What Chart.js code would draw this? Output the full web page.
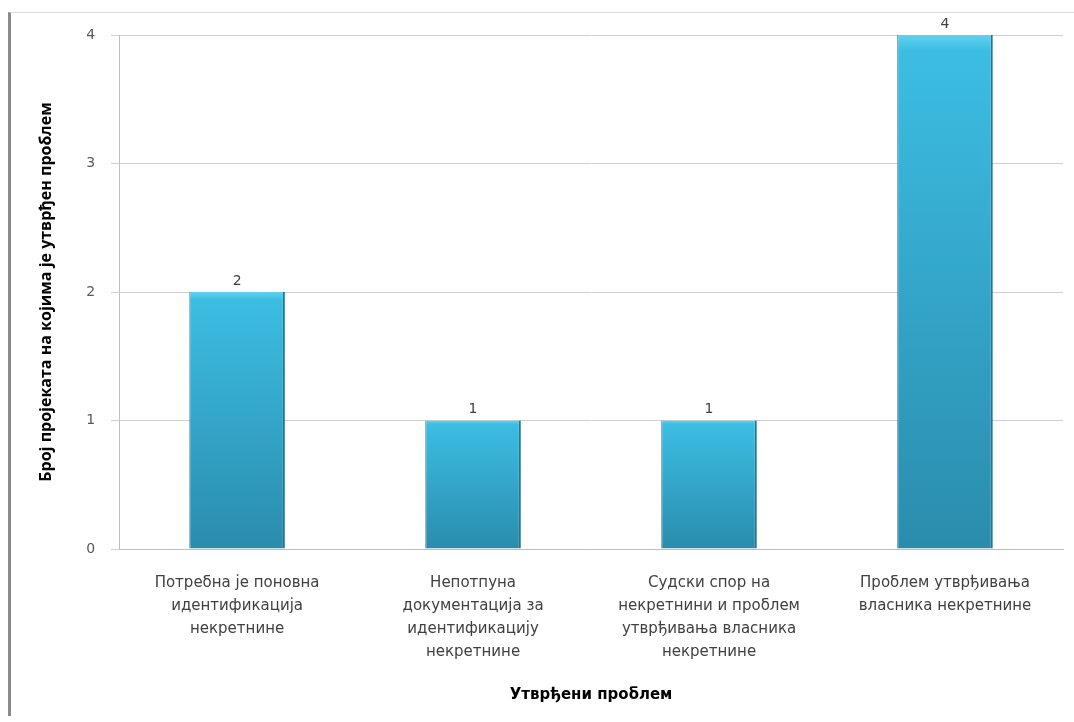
<!DOCTYPE html>
<html lang="sr">
<head>
  <meta charset="UTF-8">
  <title>Утврђени проблем</title>
  <script src="https://cdn.jsdelivr.net/npm/chart.js"></script>
  <style>
    html, body { margin: 0; padding: 0; background: #fff; }
    .frame {
      position: absolute; left: 8px; top: 12px; right: 0; bottom: 6px;
      border-left: 3px solid #8a8a8a;
      border-top: 1px solid #dcdcdc;
    }
    .chart-container { position: absolute; left: 0; top: 0; width: 1074px; height: 722px; }
  </style>
</head>
<body>
  <div class="frame"></div>
  <div class="chart-container">
    <canvas id="chart" width="1074" height="722"></canvas>
  </div>

  <script>
    // категорије и вредности
    const categories = [
      ['Потребна је поновна', 'идентификација', 'некретнине'],
      ['Непотпуна', 'документација за', 'идентификацију', 'некретнине'],
      ['Судски спор на', 'некретнини и проблем', 'утврђивања власника', 'некретнине'],
      ['Проблем утврђивања', 'власника некретнине']
    ];
    const counts = [2, 1, 1, 4];
    const yTicks = [0, 1, 2, 3, 4];

    // натписи изнад стубова
    const valueLabels = {
      id: 'valueLabels',
      afterDatasetsDraw(chart) {
        const ctx = chart.ctx;
        const meta = chart.getDatasetMeta(0);
        ctx.save();
        ctx.font = '14px "DejaVu Sans"';
        ctx.fillStyle = '#404040';
        ctx.textAlign = 'center';
        ctx.textBaseline = 'bottom';
        meta.data.forEach((bar, i) => {
          ctx.fillText(counts[i], bar.x, bar.y - 4);
        });
        ctx.restore();
      }
    };

    const ctx = document.getElementById('chart').getContext('2d');
    new Chart(ctx, {
      type: 'bar',
      data: {
        labels: categories,
        datasets: [{
          data: counts,
          // градијент по стубу: светлији врх, тамније дно
          backgroundColor: (c) => {
            const y = c.chart.scales && c.chart.scales.y;
            if (!y || !c.chart.chartArea || c.raw === undefined) return '#34a9cc';
            const top = y.getPixelForValue(c.raw);
            const base = y.getPixelForValue(0);
            const g = c.chart.ctx.createLinearGradient(0, top, 0, base);
            g.addColorStop(0, '#5fd3f0');
            g.addColorStop(0.03, '#3cbde2');
            g.addColorStop(1, '#2a8cad');
            return g;
          },
          borderColor: '#26758f',
          borderWidth: { left: 1, right: 2, top: 0, bottom: 0 },
          barPercentage: 0.405,
          categoryPercentage: 1
        }]
      },
      options: {
        responsive: false,
        animation: false,
        layout: { padding: { left: 33, right: 11, top: 35, bottom: 14 } },
        plugins: {
          legend: { display: false },
          tooltip: { enabled: false }
        },
        scales: {
          x: {
            grid: { display: false },
            border: { display: true, color: '#bfbfbf' },
            ticks: {
              color: '#404040',
              font: { family: '"DejaVu Sans"', size: 15, lineHeight: 1.55 },
              padding: 14,
              maxRotation: 0,
              autoSkip: false
            },
            title: {
              display: true,
              text: 'Утврђени проблем',
              color: '#000',
              font: { family: '"DejaVu Sans"', size: 15, weight: 'bold' },
              padding: { top: 8, bottom: 4 }
            }
          },
          y: {
            min: 0,
            max: 4,
            afterBuildTicks: (s) => { s.ticks = yTicks.map(v => ({ value: v })); },
            grid: { color: '#cfcfcf', tickLength: 8 },
            border: { display: true, color: '#bfbfbf' },
            ticks: {
              color: '#595959',
              font: { family: '"DejaVu Sans"', size: 14 },
              padding: 16
            },
            title: {
              display: true,
              text: 'Број пројеката на којима је утврђен проблем',
              color: '#000',
              font: { family: '"Open Sans"', size: 16, weight: 'bold' },
              padding: { bottom: 14 }
            }
          }
        }
      },
      plugins: [valueLabels]
    });
  </script>
</body>
</html>
